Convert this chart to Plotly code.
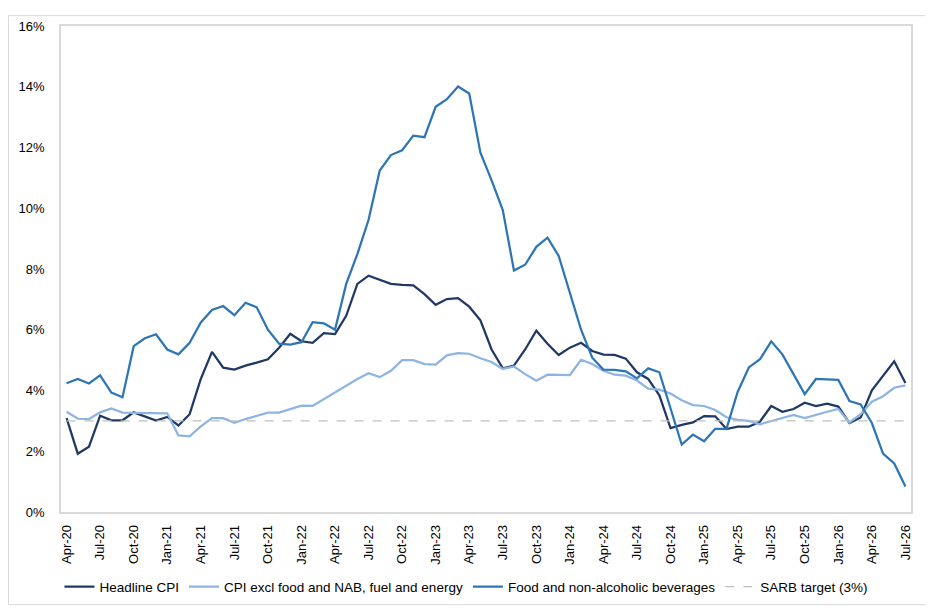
import pandas as pd
import plotly.graph_objects as go

# Monthly categories Apr-20 .. Jul-26
months = pd.date_range('2020-04-01', '2026-07-01', freq='MS').strftime('%b-%y').tolist()
tick_labels = months[::3]

# Year-on-year inflation, %
headline_cpi = [3.09, 1.92, 2.15, 3.17, 3.02, 3.02, 3.28, 3.15, 3.01, 3.13,
                2.85, 3.22, 4.38, 5.27, 4.75, 4.69, 4.82, 4.92, 5.03, 5.41,
                5.87, 5.62, 5.57, 5.89, 5.86, 6.46, 7.51, 7.78, 7.64, 7.51,
                7.48, 7.46, 7.17, 6.82, 7.01, 7.04, 6.76, 6.31, 5.35, 4.73,
                4.82, 5.35, 5.97, 5.54, 5.17, 5.41, 5.57, 5.30, 5.18, 5.17,
                5.05, 4.60, 4.38, 3.84, 2.76, 2.87, 2.95, 3.16, 3.15, 2.73,
                2.81, 2.81, 2.98, 3.49, 3.30, 3.39, 3.60, 3.49, 3.57, 3.47,
                2.93, 3.11, 4.01, 4.49, 4.96, 4.25]
core_cpi = [3.30, 3.07, 3.06, 3.28, 3.41, 3.27, 3.26, 3.25, 3.25, 3.25,
            2.52, 2.49, 2.82, 3.09, 3.09, 2.94, 3.06, 3.16, 3.27, 3.27,
            3.38, 3.50, 3.49, 3.71, 3.95, 4.17, 4.38, 4.57, 4.44, 4.65,
            5.00, 5.00, 4.87, 4.85, 5.16, 5.23, 5.21, 5.06, 4.94, 4.71,
            4.79, 4.54, 4.32, 4.52, 4.52, 4.51, 5.01, 4.87, 4.65, 4.52,
            4.49, 4.33, 4.06, 4.03, 3.90, 3.68, 3.52, 3.49, 3.36, 3.12,
            3.03, 3.00, 2.89, 3.00, 3.11, 3.20, 3.09, 3.20, 3.30, 3.39,
            2.95, 3.22, 3.63, 3.81, 4.09, 4.17]
food_nab = [4.24, 4.38, 4.23, 4.50, 3.93, 3.78, 5.46, 5.72, 5.85, 5.35,
            5.19, 5.57, 6.24, 6.65, 6.78, 6.48, 6.89, 6.74, 6.00, 5.54,
            5.51, 5.59, 6.25, 6.21, 6.00, 7.51, 8.49, 9.62, 11.24, 11.75,
            11.91, 12.39, 12.34, 13.34, 13.59, 14.01, 13.78, 11.83, 10.92, 9.94,
            7.95, 8.14, 8.73, 9.03, 8.43, 7.19, 6.00, 5.08, 4.69, 4.68,
            4.63, 4.40, 4.73, 4.60, 3.41, 2.22, 2.55, 2.33, 2.74, 2.74,
            3.95, 4.76, 5.03, 5.62, 5.19, 4.51, 3.88, 4.38, 4.37, 4.35,
            3.65, 3.54, 2.93, 1.92, 1.60, 0.84]
sarb_target = [3.0] * len(months)

font = 'Liberation Sans, Arial, sans-serif'

fig = go.Figure()
fig.add_trace(go.Scatter(x=months, y=headline_cpi, mode='lines', name='Headline CPI',
                         line=dict(color='#1f3864', width=2.25)))
fig.add_trace(go.Scatter(x=months, y=core_cpi, mode='lines',
                         name='CPI excl food and NAB, fuel and energy',
                         line=dict(color='#8db4e2', width=2.25)))
fig.add_trace(go.Scatter(x=months, y=food_nab, mode='lines',
                         name='Food and non-alcoholic beverages',
                         line=dict(color='#2e75b6', width=2.25)))
fig.add_trace(go.Scatter(x=months, y=sarb_target, mode='lines', name='SARB target (3%)',
                         line=dict(color='#bfbfbf', width=1.25, dash='dash')))

# page body adds 8px, so the figure is 8px smaller than the window
fig.update_layout(
    width=925, height=605,
    margin=dict(l=53, r=22, t=11, b=101),
    paper_bgcolor='white', plot_bgcolor='white',
    font=dict(family=font, size=13, color='#000000'),
    showlegend=True,
    legend=dict(orientation='h', x=0.477, xanchor='center', y=-0.154, yanchor='middle',
                font=dict(size=13.5), itemwidth=30),
    xaxis=dict(type='category', tickmode='array', tickvals=tick_labels,
               ticktext=tick_labels, tickangle=-90, showgrid=False, ticks='',
               showline=True, linecolor='#d9d9d9', linewidth=1.5, mirror=True,
               tickfont=dict(size=13), ticklabelstandoff=6, range=[-0.5, 75.5]),
    yaxis=dict(range=[0, 16], dtick=2, ticksuffix='%', showgrid=False, ticks='',
               showline=True, linecolor='#d9d9d9', linewidth=1.5, mirror=True,
               zeroline=False, tickfont=dict(size=13), ticklabelstandoff=12),
    shapes=[dict(type='rect', xref='paper', yref='paper',
                 x0=-0.0618, x1=1.02, y0=-0.1907, y1=1.0213,
                 line=dict(color='#d9d9d9', width=1))],
)

fig.write_html('out.html')
